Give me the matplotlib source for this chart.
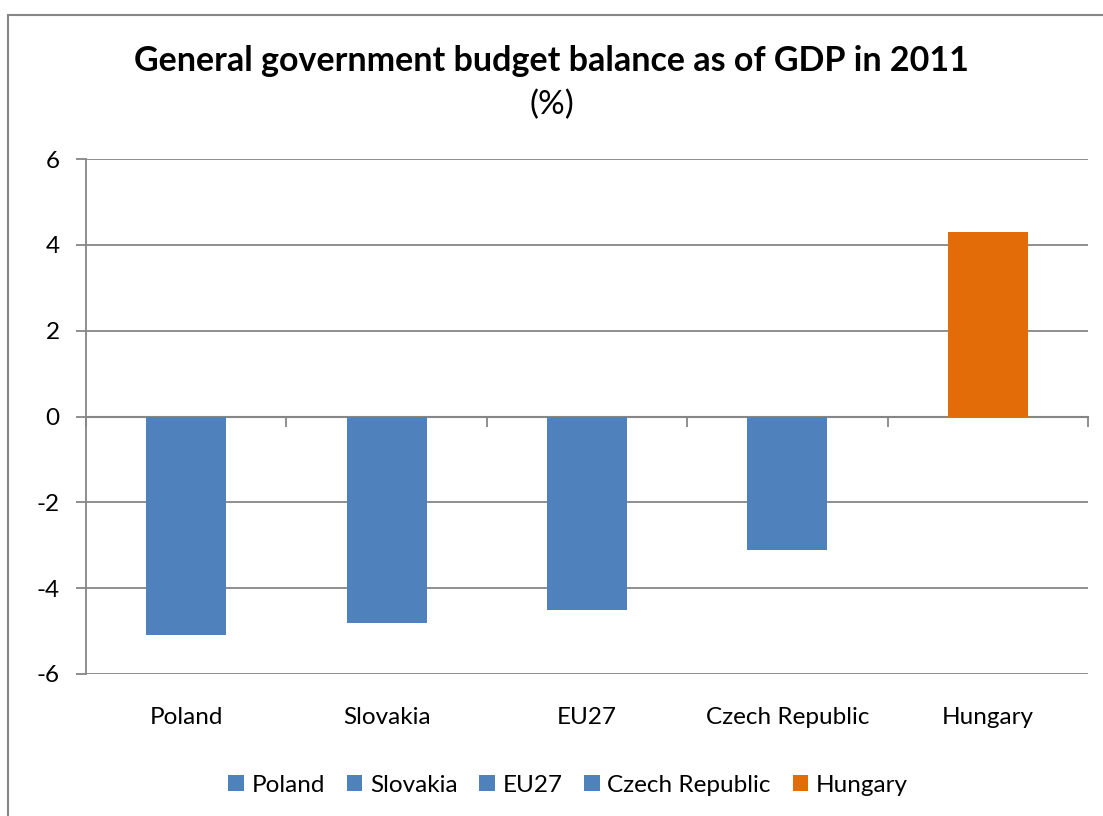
import matplotlib.pyplot as plt
from matplotlib.patches import Rectangle
import numpy as np

countries = ["Poland", "Slovakia", "EU27", "Czech Republic", "Hungary"]
balance = [-5.1, -4.8, -4.5, -3.1, 4.3]
bar_colors = ["#4F81BD", "#4F81BD", "#4F81BD", "#4F81BD", "#E36C09"]
y_ticks = [-6, -4, -2, 0, 2, 4, 6]

plt.rcParams['font.family'] = ['Lato', 'DejaVu Sans']
grey = "#868686"

fig = plt.figure(figsize=(11.03, 8.16), dpi=100)
ax = fig.add_axes([86 / 1103, 1 - 674 / 816, (1088 - 86) / 1103, (674 - 159) / 816])

# outer chart frame (only left and top edges visible in the original)
fig.patches.append(Rectangle((8 / 1103, -0.1), 1.2, 1 - 15 / 816 + 0.1,
                             transform=fig.transFigure, fill=False,
                             edgecolor=grey, lw=1.5))

x = np.arange(len(countries))
for xi, name, val, col in zip(x, countries, balance, bar_colors):
    ax.bar(xi, val, width=0.4, color=col, label=name, zorder=3)

ax.set_xlim(-0.5, len(countries) - 0.5)
ax.set_ylim(-6, 6)
ax.set_yticks(y_ticks)
ax.set_yticklabels([str(v) for v in y_ticks])
ax.yaxis.grid(True, color=grey, lw=1.3, zorder=0)
ax.set_axisbelow(True)

for side in ["top", "right", "bottom"]:
    ax.spines[side].set_visible(False)
ax.spines["left"].set_color(grey)
ax.spines["left"].set_linewidth(1.3)
ax.tick_params(axis="y", direction="out", length=7, width=1.3, color=grey,
               labelsize=17.5, pad=12)

ax.set_xticks(x)
ax.set_xticklabels(countries)
ax.tick_params(axis="x", length=0, labelsize=17.5, pad=24)

# category axis drawn at zero with boundary tick marks
sec = ax.secondary_xaxis(0, transform=ax.transData)
sec.set_xticks(np.arange(len(countries) + 1) - 0.5)
sec.set_xticklabels([])
sec.spines["bottom"].set_color(grey)
sec.spines["bottom"].set_linewidth(1.5)
sec.tick_params(direction="out", length=7, width=1.3, color=grey)

fig.text(0.5, 1 - 61 / 816, "General government budget balance as of GDP in 2011",
         ha="center", va="center", fontsize=24.5, fontweight="bold")
fig.text(0.5, 1 - 105 / 816, "(%)", ha="center", va="center", fontsize=24)

fig.legend(loc="center", bbox_to_anchor=(0.515, 1 - 785 / 816), ncol=5,
           frameon=False, fontsize=17.5, handlelength=0.65, handleheight=0.65,
           handletextpad=0.3, columnspacing=0.9)

fig.savefig("out.png", dpi=100)
